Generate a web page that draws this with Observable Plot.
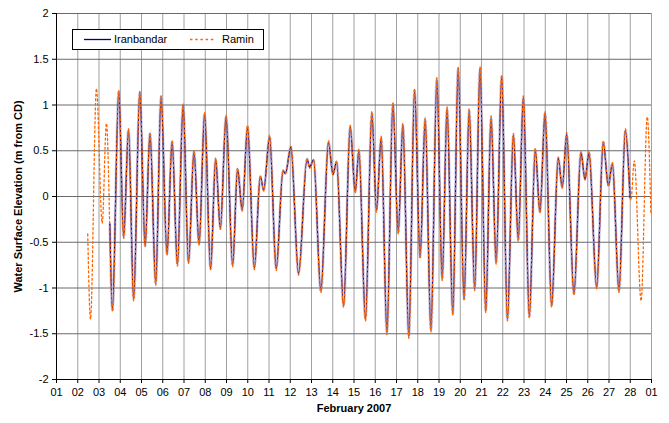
<!DOCTYPE html>
<html>
<head>
<meta charset="utf-8">
<script src="https://cdn.jsdelivr.net/npm/d3@7"></script>
<script src="https://cdn.jsdelivr.net/npm/@observablehq/plot@0.6"></script>
<style>
  html, body { margin: 0; padding: 0; background: #fff; }
  #wrap { position: relative; width: 669px; height: 423px; font-family: "Liberation Sans", Arial, sans-serif; }
  #legend { position: absolute; left: 72px; top: 29px; width: 190px; height: 19px; border: 1px solid #000; background: #fff; font-size: 11px; }
  #legend svg { position: absolute; left: 0; top: 0; }
  #legend span { position: absolute; top: 3px; }
</style>
</head>
<body>
<div id="wrap">
  <div id="chart"></div>
  <div id="legend">
    <svg width="190" height="19">
      <line x1="11" x2="38" y1="9.5" y2="9.5" stroke="#000080" stroke-width="1.3"></line>
      <line x1="117" x2="143" y1="9.5" y2="9.5" stroke="#ff6600" stroke-width="1.3" stroke-dasharray="2.5,2.7"></line>
    </svg>
    <span style="left:41px">Iranbandar</span>
    <span style="left:149px">Ramin</span>
  </div>
</div>
<script>
// Day of February 2007 (fractional), water surface elevation (m from CD) at turning points
const iranDay = [3.51,3.63,3.93,4.16,4.39,4.63,4.92,5.17,5.40,5.67,5.92,6.20,6.44,6.69,6.96,7.21,7.47,7.71,7.97,8.25,8.49,8.71,8.98,9.29,9.52,9.74,9.99,10.31,10.59,10.75,11.03,11.34,11.66,11.77,12.03,12.39,12.79,12.91,13.10,13.44,13.80,14.01,14.18,14.51,14.82,15.06,15.23,15.54,15.84,16.06,16.28,16.55,16.83,17.08,17.30,17.58,17.85,18.11,18.35,18.62,18.90,19.15,19.38,19.65,19.90,20.18,20.42,20.68,20.93,21.20,21.45,21.69,21.95,22.22,22.50,22.73,22.97,23.25,23.53,23.75,23.99,24.30,24.61,24.80,25.01,25.35,25.68,25.87,26.06,26.42,26.73,26.97,27.16,27.47,27.77,27.99];
const iranElev = [-0.30,-1.24,1.15,-0.44,0.73,-1.12,1.14,-0.54,0.69,-0.95,1.09,-0.63,0.60,-0.74,1.00,-0.72,0.49,-0.52,0.90,-0.79,0.41,-0.35,0.87,-0.75,0.30,-0.15,0.76,-0.78,0.22,0.07,0.65,-0.79,0.28,0.25,0.54,-0.84,0.41,0.32,0.40,-1.03,0.59,0.24,0.38,-1.19,0.76,0.05,0.50,-1.34,0.91,-0.15,0.64,-1.49,1.01,-0.39,0.78,-1.53,1.16,-0.66,0.84,-1.46,1.28,-0.90,0.96,-1.28,1.39,-1.12,0.94,-1.01,1.40,-1.25,0.86,-0.72,1.31,-1.34,0.67,-0.47,1.08,-1.31,0.51,-0.17,0.91,-1.19,0.42,0.10,0.68,-1.06,0.48,0.19,0.48,-0.99,0.59,0.12,0.36,-1.03,0.72,-0.01];

const raminDay = [2.47,2.60,2.88,3.15,3.35,3.64,3.93,4.16,4.39,4.63,4.92,5.17,5.40,5.67,5.92,6.20,6.44,6.69,6.96,7.21,7.47,7.71,7.97,8.25,8.49,8.71,8.98,9.29,9.52,9.74,9.99,10.31,10.59,10.75,11.03,11.34,11.66,11.77,12.03,12.39,12.79,12.91,13.10,13.44,13.80,14.01,14.18,14.51,14.82,15.06,15.23,15.54,15.84,16.06,16.28,16.55,16.83,17.08,17.30,17.58,17.85,18.11,18.35,18.62,18.90,19.15,19.38,19.65,19.90,20.18,20.42,20.68,20.93,21.20,21.45,21.69,21.95,22.22,22.50,22.73,22.97,23.25,23.53,23.75,23.99,24.30,24.61,24.80,25.01,25.35,25.68,25.87,26.06,26.42,26.73,26.97,27.16,27.47,27.77,28.03,28.19,28.51,28.80,28.97];
const raminElev = [-0.41,-1.34,1.18,-0.29,0.80,-1.26,1.16,-0.46,0.74,-1.14,1.15,-0.55,0.70,-0.97,1.10,-0.64,0.61,-0.76,1.01,-0.73,0.50,-0.53,0.92,-0.80,0.42,-0.36,0.89,-0.77,0.31,-0.16,0.78,-0.80,0.23,0.06,0.67,-0.81,0.29,0.25,0.55,-0.86,0.42,0.31,0.40,-1.05,0.61,0.24,0.39,-1.21,0.78,0.04,0.52,-1.36,0.93,-0.17,0.66,-1.51,1.03,-0.41,0.80,-1.55,1.18,-0.68,0.86,-1.48,1.30,-0.92,0.98,-1.30,1.42,-1.14,0.96,-1.03,1.42,-1.27,0.88,-0.74,1.33,-1.36,0.69,-0.49,1.10,-1.33,0.53,-0.18,0.93,-1.21,0.43,0.09,0.70,-1.08,0.49,0.18,0.49,-1.01,0.61,0.11,0.37,-1.05,0.74,-0.04,0.39,-1.14,0.87,-0.19];

const xTickDays = [1,2,3,4,5,6,7,8,9,10,11,12,13,14,15,16,17,18,19,20,21,22,23,24,25,26,27,28,29];
const xTickLabels = ["01","02","03","04","05","06","07","08","09","10","11","12","13","14","15","16","17","18","19","20","21","22","23","24","25","26","27","28","01"];
const yTicks = [-2,-1.5,-1,-0.5,0,0.5,1,1.5,2];

const xTitle = "February 2007";
const yTitle = "Water Surface Elevation (m from CD)";

const iran = iranDay.map((d, i) => ({day: d, elev: iranElev[i]}));
const ramin = raminDay.map((d, i) => ({day: d, elev: raminElev[i]}));

const chart = Plot.plot({
  width: 669,
  height: 423,
  marginLeft: 56,
  marginRight: 18,
  marginTop: 13,
  marginBottom: 44,
  style: {fontFamily: "'Liberation Sans', Arial, sans-serif", fontSize: "11px", color: "#000", background: "#fff"},
  x: {domain: [1, 29], label: null},
  y: {domain: [-2, 2], label: null},
  marks: [
    Plot.gridX(xTickDays, {stroke: "#a0a0a0", strokeOpacity: 1, strokeWidth: 1}),
    Plot.gridY(yTicks, {stroke: "#6a6a6a", strokeOpacity: 1, strokeWidth: 1}),
    Plot.line(iran, {x: "day", y: "elev", curve: "monotone-x", stroke: "#9090d8", strokeWidth: 2.8, strokeOpacity: 0.45}),
    Plot.line(iran, {x: "day", y: "elev", curve: "monotone-x", stroke: "#000080", strokeWidth: 1.2}),
    Plot.line(ramin, {x: "day", y: "elev", curve: "monotone-x", stroke: "#ff6600", strokeWidth: 1.3, strokeDasharray: "2,2.6"}),
    Plot.ruleX([1], {stroke: "#000", strokeWidth: 1}),
    Plot.ruleY([-2], {stroke: "#000", strokeWidth: 1}),
    Plot.axisX(xTickDays, {tickSize: 4, tickPadding: 5, tickFormat: (d) => xTickLabels[xTickDays.indexOf(d)], fontSize: 11, label: null}),
    Plot.axisY(yTicks, {tickSize: 4, tickPadding: 4, tickFormat: d => String(d), fontSize: 11, label: null}),
    Plot.text([xTitle], {text: d => d, frameAnchor: "bottom", dy: 32, fontWeight: "bold", fontSize: 11, textAnchor: "middle"}),
    Plot.text([yTitle], {text: d => d, frameAnchor: "left", dx: -38, rotate: -90, fontWeight: "bold", fontSize: 11, textAnchor: "middle"})
  ]
});
document.getElementById("chart").appendChild(chart);
</script>
</body>
</html>
